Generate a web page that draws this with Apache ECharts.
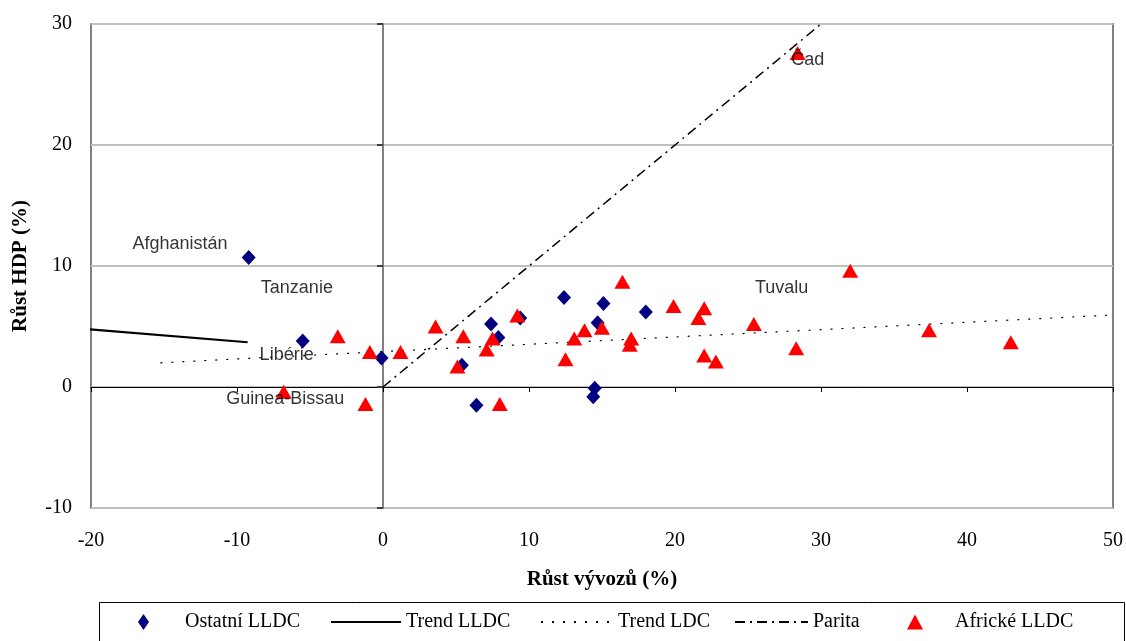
<!DOCTYPE html>
<html>
<head>
<meta charset="utf-8">
<script src="https://cdn.jsdelivr.net/npm/echarts@6/dist/echarts.min.js"></script>
<style>html,body{margin:0;padding:0;background:#fff;}#c{width:1126px;height:641px;}</style>
</head>
<body>
<div id="c"></div>
<script>
// Ostatní LLDC (blue diamonds)
const ostatniX = [-9.2, -5.5, -0.1, 7.4, 7.9, 9.4, 5.4, 6.4, 12.4, 15.1, 14.7, 18.0, 14.5, 14.4];
const ostatniY = [10.7, 3.8, 2.4, 5.2, 4.1, 5.7, 1.8, -1.5, 7.4, 6.9, 5.3, 6.2, -0.1, -0.8];
// Africké LLDC (red triangles)
const africkeX = [-3.1, -0.9, 1.2, -6.8, -1.2, 3.6, 5.5, 5.1, 7.1, 7.5, 9.2, 8.0, 13.1, 13.8, 15.0, 12.5, 16.4, 17.0, 16.9, 19.9, 22.0, 21.6, 22.0, 22.8, 25.4, 28.3, 32.0, 37.4, 43.0, 28.4];
const africkeY = [4.2, 2.9, 2.9, -0.4, -1.4, 5.0, 4.2, 1.7, 3.1, 4.0, 5.9, -1.4, 4.0, 4.7, 4.9, 2.3, 8.7, 4.0, 3.5, 6.7, 6.5, 5.7, 2.6, 2.1, 5.2, 3.2, 9.6, 4.7, 3.7, 27.6];
// Trend lines
const trendLLDCX = [-20.45, -9.27];
const trendLLDCY = [4.8, 3.7];
const trendLDCX = [-15.25, 50.75];
const trendLDCY = [2.0, 6.0];
const paritaX = [0, 30];
const paritaY = [0, 30];
// Country labels
const labelNames = ['Afghanistán', 'Tanzanie', 'Libérie', 'Guinea-Bissau', 'Tuvalu', 'Čad'];
const labelX = [-13.9, -5.9, -6.6, -6.7, 27.3, 29.1];
const labelY = [11.8, 8.2, 2.65, -1.0, 8.2, 27.0];
// Axis ticks
const xTicks = [-20, -10, 0, 10, 20, 30, 40, 50];
const yTicks = [-10, 0, 10, 20, 30];

const zip = (a, b) => a.map((v, i) => [v, b[i]]);
const serif = "'Liberation Serif', 'Times New Roman', serif";
const sans = "'Liberation Sans', Arial, sans-serif";

const chart = echarts.init(document.getElementById('c'), null, {renderer: 'canvas'});
const xMin = xTicks[0], xMax = xTicks[xTicks.length - 1];
const yMin = yTicks[0], yMax = yTicks[yTicks.length - 1];

const legendBase = {
  orient: 'horizontal', top: 611, padding: 0,
  textStyle: {fontFamily: serif, fontSize: 20, color: '#000', lineHeight: 22},
  selectedMode: false
};
const noSymbol = {color: 'rgba(0,0,0,0)', borderColor: 'rgba(0,0,0,0)', borderWidth: 0};

chart.setOption({
  animation: false,
  backgroundColor: '#fff',
  grid: {left: 91, top: 24, right: 13, bottom: 133, show: true, borderColor: '#808080', borderWidth: 2,
    containLabel: false, outerBoundsMode: 'none'},
  xAxis: [{
    type: 'value', min: xMin, max: xMax, interval: 10, position: 'bottom',
    axisLine: {show: false, onZero: false},
    axisTick: {show: false},
    splitLine: {show: false},
    axisLabel: {fontFamily: serif, fontSize: 20, color: '#000', margin: 23},
    name: 'Růst vývozů (%)', nameLocation: 'middle', nameGap: 61,
    nameTextStyle: {fontFamily: serif, fontSize: 21, fontWeight: 'bold', color: '#000'}
  }, {
    type: 'value', min: xMin, max: xMax, interval: 10, position: 'top',
    axisLine: {show: true, onZero: true, lineStyle: {color: '#000', width: 1}},
    axisTick: {show: true, inside: true, length: 5, lineStyle: {color: '#000', width: 1}},
    axisLabel: {show: false},
    splitLine: {show: false}
  }],
  yAxis: [{
    type: 'value', min: yMin, max: yMax, interval: 10, position: 'left',
    axisLine: {show: false, onZero: false},
    axisTick: {show: false},
    splitLine: {show: true, lineStyle: {color: '#c0c0c0', width: 2}},
    axisLabel: {fontFamily: serif, fontSize: 20, color: '#000', margin: 19},
    name: 'Růst HDP (%)', nameLocation: 'middle', nameGap: 60,
    nameTextStyle: {fontFamily: serif, fontSize: 21, fontWeight: 'bold', color: '#000'}
  }, {
    type: 'value', min: yMin, max: yMax, interval: 10, position: 'right',
    axisLine: {show: true, onZero: true, onZeroAxisIndex: 1, lineStyle: {color: '#808080', width: 2}},
    axisTick: {show: true, inside: true, length: 6, lineStyle: {color: '#404040', width: 2}},
    axisLabel: {show: false},
    splitLine: {show: false}
  }],
  legend: [
    Object.assign({}, legendBase, {left: 138, data: [{name: 'Ostatní LLDC', icon: 'diamond'}], itemWidth: 11, itemHeight: 16,
      textStyle: Object.assign({}, legendBase.textStyle, {padding: [0, 0, 0, 31]})}),
    Object.assign({}, legendBase, {left: 330, data: ['Trend LLDC'], itemWidth: 70, itemHeight: 14, itemStyle: noSymbol}),
    Object.assign({}, legendBase, {left: 540, data: ['Trend LDC'], itemWidth: 72, itemHeight: 14, itemStyle: noSymbol}),
    Object.assign({}, legendBase, {left: 734, data: ['Parita'], itemWidth: 73, itemHeight: 14, itemStyle: noSymbol}),
    Object.assign({}, legendBase, {left: 907, data: [{name: 'Africké LLDC', icon: 'triangle'}], itemWidth: 16, itemHeight: 15,
      textStyle: Object.assign({}, legendBase.textStyle, {padding: [0, 0, 0, 27]})})
  ],
  graphic: [{
    type: 'rect', left: 97, top: 600, z: -1,
    shape: {width: 1025, height: 40},
    style: {fill: 'none', stroke: '#000', lineWidth: 1}
  }],
  series: [{
    name: 'Ostatní LLDC', type: 'scatter', symbol: 'diamond', symbolSize: [14, 15],
    itemStyle: {color: '#000080', opacity: 1}, data: zip(ostatniX, ostatniY), z: 3
  }, {
    name: 'Trend LLDC', type: 'line', symbol: 'none', clip: false,
    lineStyle: {color: '#000', width: 2, type: 'solid'}, itemStyle: {color: '#000'},
    data: zip(trendLLDCX, trendLLDCY), z: 2
  }, {
    name: 'Trend LDC', type: 'line', symbol: 'none', clip: false,
    lineStyle: {color: '#000', width: 1.2, type: [2, 9]}, itemStyle: {color: '#000'},
    data: zip(trendLDCX, trendLDCY), z: 2
  }, {
    name: 'Parita', type: 'line', symbol: 'none', clip: false,
    lineStyle: {color: '#000', width: 1.5, type: [10, 5, 2, 5]}, itemStyle: {color: '#000'},
    data: zip(paritaX, paritaY), z: 2
  }, {
    name: 'Africké LLDC', type: 'scatter', symbol: 'triangle', symbolSize: [16, 14],
    itemStyle: {color: '#ff0000', opacity: 1}, data: zip(africkeX, africkeY), z: 4
  }, {
    name: 'labels', type: 'scatter', symbolSize: 1, silent: true,
    itemStyle: {color: 'rgba(0,0,0,0)'},
    data: labelNames.map((n, i) => ({name: n, value: [labelX[i], labelY[i]]})),
    label: {show: true, position: 'inside', formatter: p => p.name, fontFamily: sans, fontSize: 18, color: '#000'},
    z: 6
  }]
});
</script>
</body>
</html>
